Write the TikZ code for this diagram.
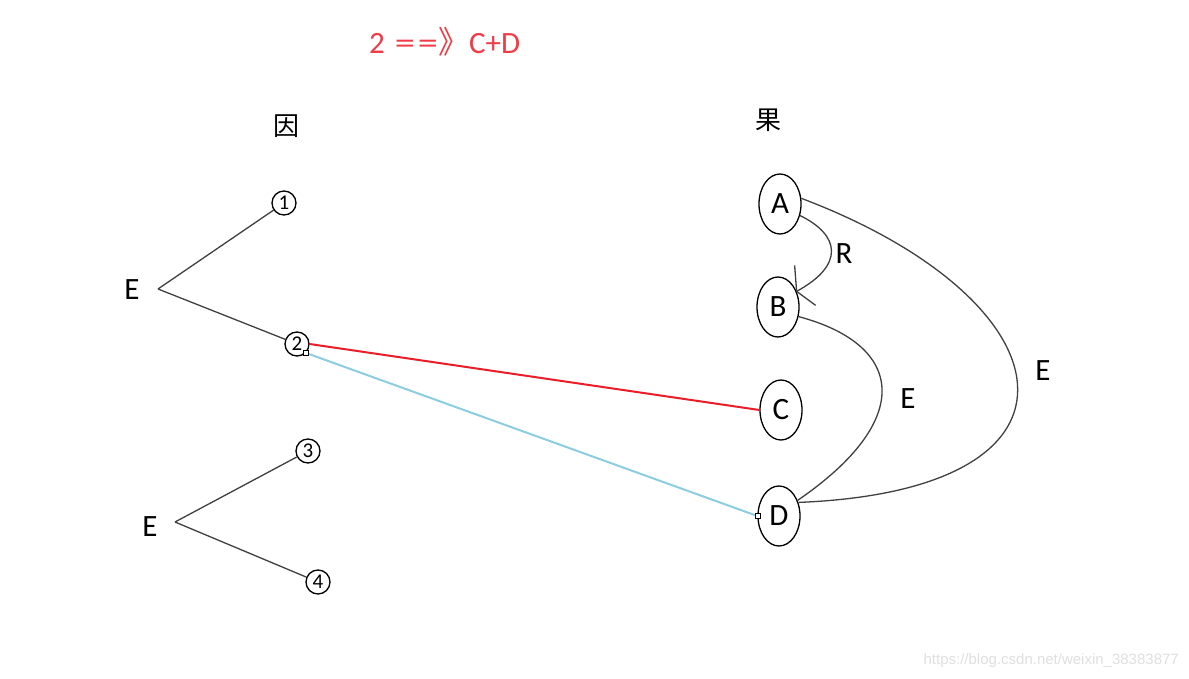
\documentclass[tikz,border=0pt]{standalone}
\usepackage{fontspec}
\setmainfont{Carlito}
\setsansfont{Liberation Sans}
\newfontfamily\cjk{Noto Sans CJK SC}
\usetikzlibrary{shapes.geometric}
\definecolor{redline}{RGB}{235,30,40}
\definecolor{blueline}{RGB}{140,205,225}
\definecolor{titlered}{RGB}{240,60,70}
\tikzset{
  lbl/.style={font=\fontsize{31}{34}\selectfont, inner sep=0pt},
  cjklbl/.style={font=\cjk\fontsize{26}{30}\selectfont, inner sep=0pt},
  circnum/.style={draw, circle, line width=1.3pt, minimum size=24pt, inner sep=0pt, font=\fontsize{21}{22}\selectfont},
  res/.style={draw, ellipse, line width=1.3pt, minimum width=42pt, minimum height=60pt, inner sep=0pt, font=\fontsize{31}{34}\selectfont},
  conn/.style={line width=1.3pt, draw=black!75},
  sq/.style={draw=black, fill=white, line width=0.6pt, minimum size=5pt, inner sep=0pt, rectangle},
}
\begin{document}
\begin{tikzpicture}[x=1pt,y=-1pt]
\useasboundingbox[fill=white] (0,0) rectangle (1189,679);
% title
\node[lbl, text=titlered, anchor=west] (title) at (369,42) {2\hspace{10pt}\scalebox{1.3}[1]{=}\hspace{3pt}\scalebox{1.3}[1]{=}{\cjk 》}C+D};
% headers
\node[cjklbl] (yin) at (286,126) {因};
\node[cjklbl] (guo) at (768,120) {果};
% left side
\node[lbl] (E1) at (132,290) {E};
\node[lbl] (E2) at (150,527) {E};
\coordinate (E1p) at (158,289);
\coordinate (E2p) at (175,522);
\node[circnum] (c1) at (284,203) {1};
\node[circnum] (c2) at (297,344) {2};
\node[circnum] (c3) at (308,451) {3};
\node[circnum] (c4) at (318,582) {4};
\draw[conn] (E1p) -- (c1);
\draw[conn] (E1p) -- (c2);
\draw[conn] (E2p) -- (c3);
\draw[conn] (E2p) -- (c4);
% right side
\node[res] (A) at (780,204) {A};
\node[res] (B) at (778,307) {B};
\node[res] (C) at (781,410) {C};
\node[res] (D) at (779,516) {D};
% causal links
\draw[redline, line width=2pt] (c2.east) -- (C.west);
\draw[blueline, line width=2pt] (c2.south east) -- (D.west)
  node[sq, pos=0] {} node[sq, pos=1] {};
% relations
\draw[conn] (A.-30) .. controls (840,235) and (845,265) .. (B.40);
\draw[conn] (B.40) -- ++(-2,-26);
\draw[conn] (B.40) -- ++(19,14);
\node[lbl] (R) at (844,254) {R};
\draw[conn] (B.-25) .. controls (905,345) and (915,420) .. (D.40);
\node[lbl] (Eb) at (908,399) {E};
\draw[conn] (A.15) .. controls (1070,300) and (1110,490) .. (D.35);
\node[lbl] (Ea) at (1043,371) {E};
% watermark
\node[font=\fontsize{15}{17}\selectfont\sffamily, text=black!12, anchor=east, inner sep=0pt] (wm) at (1179,661) {https://blog.csdn.net/weixin\_38383877};
\end{tikzpicture}
\end{document}
